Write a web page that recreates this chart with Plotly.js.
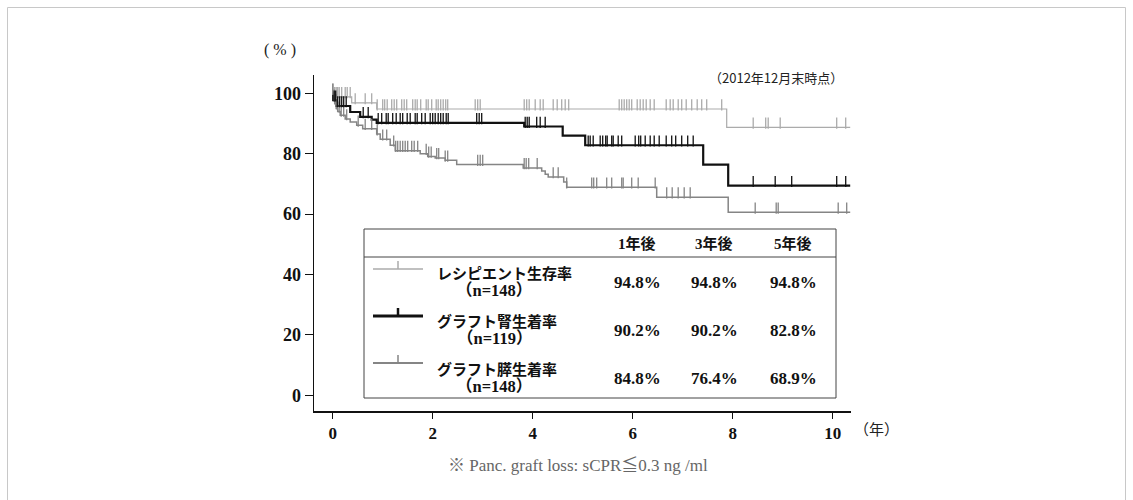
<!DOCTYPE html>
<html>
<head>
<meta charset="utf-8">
<script src="https://cdn.plot.ly/plotly-3.0.1.min.js"></script>
<style>
html,body{margin:0;padding:0;background:#fff;}
#chart{width:1133px;height:500px;}
</style>
</head>
<body>
<div id="chart"></div>
<script>
// ---------------- data ----------------
const seriesNames = ["レシピエント生存率", "グラフト腎生着率", "グラフト膵生着率"];
const seriesN = ["（n=148）", "（n=119）", "（n=148）"];
const colHeaders = ["1年後", "3年後", "5年後"];
const recipRates = ["94.8%", "94.8%", "94.8%"];
const kidneyRates = ["90.2%", "90.2%", "82.8%"];
const pancRates = ["84.8%", "76.4%", "68.9%"];

// Kaplan-Meier step curves (years, %)
const recipT = [0, 0.02, 0.38, 0.88, 7.88, 10.35];
const recipS = [100, 98.8, 96.8, 94.8, 88.7, 88.7];
const kidT = [0, 0.01, 0.08, 0.35, 0.55, 0.78, 0.88, 3.83, 4.6, 5.05, 7.41, 7.91, 10.35];
const kidS = [100, 97.7, 95.8, 93.8, 92.2, 91.3, 90.2, 89.0, 86.0, 82.8, 76.4, 69.4, 69.4];
const panT = [0, 0.02, 0.04, 0.07, 0.1, 0.15, 0.25, 0.35, 0.48, 0.6, 0.88, 0.95, 1.15, 1.25, 1.75, 1.9, 2.05, 2.25, 2.48, 3.81, 4.18, 4.25, 4.31, 4.62, 4.68, 6.48, 7.91, 10.35];
const panS = [100, 98, 96.5, 95, 94, 92.7, 91.5, 90.5, 89.4, 88.3, 86.5, 84.8, 82.8, 81.0, 80.0, 79.1, 78.6, 77.8, 76.4, 75.3, 74.3, 73.2, 72.3, 70.6, 68.9, 65.6, 60.6, 60.6];

// censored observations (years)
const recipCens = [0.01,0.04,0.07,0.1,0.13,0.18,0.25,0.29,0.35,0.45,0.65,0.78,0.89,1.0,1.04,1.09,1.18,1.23,1.28,1.38,1.43,1.48,1.6,1.65,1.69,1.76,1.87,1.91,1.98,2.07,2.11,2.16,2.21,2.26,2.3,2.85,2.9,2.95,3.83,3.88,3.93,4.05,4.15,4.21,4.41,4.49,4.58,4.65,4.72,5.73,5.78,5.83,5.88,5.93,5.98,6.09,6.15,6.21,6.27,6.35,6.43,6.67,6.75,6.81,6.91,6.98,7.07,7.18,7.29,7.38,7.48,7.78,8.41,8.66,8.71,8.95,10.08,10.26];
const kidCens = [0.03,0.06,0.1,0.14,0.18,0.22,0.27,0.61,0.71,0.91,0.98,1.07,1.11,1.2,1.27,1.35,1.4,1.49,1.55,1.65,1.69,1.78,1.85,1.95,2.0,2.05,2.11,2.16,2.21,2.27,2.31,2.88,2.93,2.98,3.85,3.89,3.93,4.08,4.15,4.25,5.11,5.15,5.21,5.35,5.4,5.46,5.49,5.58,5.61,5.71,5.78,6.05,6.12,6.16,6.25,6.35,6.43,6.53,6.67,6.78,6.86,6.98,7.1,7.21,8.41,8.85,9.18,10.08,10.26];
const panCens = [0.0,0.03,0.06,0.09,0.13,0.17,0.22,0.28,0.51,0.65,0.78,0.89,1.0,1.08,1.22,1.26,1.3,1.35,1.4,1.45,1.5,1.58,1.63,1.7,1.87,1.92,1.97,2.08,2.12,2.25,2.3,2.9,2.95,3.0,3.83,3.87,3.92,4.09,4.41,4.51,4.68,5.18,5.22,5.28,5.48,5.58,5.78,5.81,5.98,6.11,6.45,6.68,6.79,6.91,7.03,7.15,8.45,8.87,8.91,10.11,10.28];

const xTicks = [0, 2, 4, 6, 8, 10];
const yTicks = [0, 20, 40, 60, 80, 100];

// ---------------- styling / layout ----------------
const colRecip = '#ababab', colKid = '#111111', colPan = '#858585';
const W = 1133, H = 500;
const L = 314, T = 75, PW = 537, PH = 336;
const xR = [-0.374, 10.366], yR = [-5.2, 106.06];
const markLift = 1.4; // censor ticks drawn slightly above line
const px = v => (v - L) / PW;
const py = v => (T + PH - v) / PH;

function stepAt(ts, ss, t) {
  let v = ss[0];
  for (let i = 0; i < ts.length; i++) { if (ts[i] <= t) v = ss[i]; }
  return v;
}

function curve(ts, ss, col, w) {
  return {x: ts, y: ss, type: 'scatter', mode: 'lines', line: {shape: 'hv', color: col, width: w},
          hoverinfo: 'skip', showlegend: false};
}
function cens(ts, cs, ss, col) {
  return {x: cs, y: cs.map(t => stepAt(ts, ss, t)), yaxis: 'y2', type: 'scatter', mode: 'markers',
          marker: {symbol: 'line-ns-open', size: 8, color: col, line: {color: col, width: 1.3}},
          hoverinfo: 'skip', showlegend: false};
}

const data = [
  curve(recipT, recipS, colRecip, 1.2),
  curve(panT, panS, colPan, 1.5),
  curve(kidT, kidS, colKid, 2.2),
  cens(recipT, recipCens, recipS, colRecip),
  cens(panT, panCens, panS, colPan),
  cens(kidT, kidCens, kidS, colKid)
];

const serif = 'Liberation Serif, Times New Roman, Noto Sans CJK JP, serif';
const gothic = 'Noto Sans CJK JP, sans-serif';

const annotations = [];
function ann(text, x, y, opts) {
  annotations.push(Object.assign({text: text, x: px(x), y: py(y), xref: 'paper', yref: 'paper',
    showarrow: false, xanchor: 'center', yanchor: 'middle',
    font: {family: serif, size: 17, color: '#111', weight: 'bold'}}, opts || {}));
}
ann('( % )', 280, 50, {font: {family: serif, size: 16, color: '#222'}});
ann('（年）', 876, 428, {font: {family: gothic, size: 15, color: '#222'}});
ann('（2012年12月末時点）', 845, 78, {xanchor: 'right', font: {family: gothic, size: 13, color: '#222'}});
ann('※ Panc. graft loss: sCPR≦0.3 ng /ml', 578, 465, {font: {family: serif, size: 17, color: '#666'}});

// table
const colX = [637, 714, 793];
const rowY = [282, 330, 378];
const rowLabelY = [272, 320, 368];
const rowNY = [290, 338, 386];
const rates = [recipRates, kidneyRates, pancRates];
colHeaders.forEach((h, i) => ann(h, colX[i], 243, {font: {family: serif, size: 15, color: '#111', weight: 'bold'}}));
seriesNames.forEach((n, i) => {
  ann(n, 435, rowLabelY[i], {xanchor: 'left', font: {family: gothic, size: 15, color: '#111', weight: 'bold'}});
  ann(seriesN[i], 494, rowNY[i], {font: {family: serif, size: 16.5, color: '#111', weight: 'bold'}});
  rates[i].forEach((r, j) => ann(r, colX[j], rowY[i]));
});

const shapes = [];
function ln(x0, y0, x1, y1, col, w) {
  shapes.push({type: 'line', xref: 'paper', yref: 'paper', x0: px(x0), y0: py(y0), x1: px(x1), y1: py(y1),
    line: {color: col, width: w}});
}
// outer frame
shapes.push({type: 'rect', xref: 'paper', yref: 'paper', x0: px(7.5), x1: px(1125.5), y0: py(7.5), y1: py(520),
  line: {color: '#c8c8c8', width: 1}, fillcolor: 'rgba(0,0,0,0)'});
// table box
shapes.push({type: 'rect', xref: 'paper', yref: 'paper', x0: px(364), x1: px(836), y0: py(229), y1: py(398),
  line: {color: '#444', width: 1}, fillcolor: 'rgba(255,255,255,1)', layer: 'above'});
ln(364, 257, 836, 257, '#444', 1);
// legend samples
const sampleY = [269, 316, 363];
const sampleCol = [colRecip, colKid, colPan];
const sampleW = [1.5, 3, 2];
sampleY.forEach((y, i) => {
  ln(373, y, 423, y, sampleCol[i], sampleW[i]);
  ln(398, y - 8, 398, y, sampleCol[i], sampleW[i] > 2 ? 2.5 : 1.5);
});

const layout = {
  width: W, height: H,
  margin: {l: L, r: W - L - PW, t: T, b: H - T - PH, pad: 0},
  paper_bgcolor: '#fff', plot_bgcolor: '#fff',
  showlegend: false,
  xaxis: {range: xR, tickvals: xTicks, ticktext: xTicks.map(String), showgrid: false, zeroline: false,
    showline: true, linecolor: '#111', linewidth: 1.5, ticks: 'outside', ticklen: 6, tickwidth: 1.2, tickcolor: '#111',
    tickfont: {family: serif, size: 17, color: '#111', weight: 'bold'}, fixedrange: true},
  yaxis: {range: yR, tickvals: yTicks, ticktext: yTicks.map(String), showgrid: false, zeroline: false,
    showline: true, linecolor: '#111', linewidth: 1.5, ticks: 'outside', ticklen: 8, tickwidth: 1.2, tickcolor: '#111',
    tickfont: {family: serif, size: 18, color: '#111', weight: 'bold'}, fixedrange: true},
  yaxis2: {range: [yR[0] - markLift, yR[1] - markLift], overlaying: 'y', visible: false, fixedrange: true},
  annotations: annotations,
  shapes: shapes
};

Plotly.newPlot('chart', data, layout, {staticPlot: true, displayModeBar: false});
</script>
</body>
</html>
